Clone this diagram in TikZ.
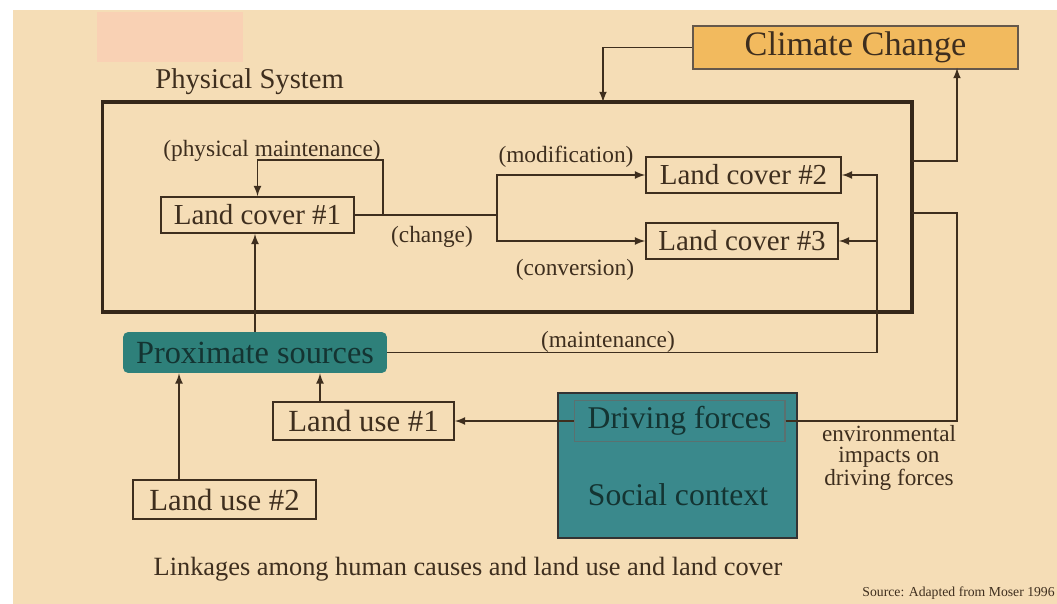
\documentclass[tikz,border=0pt]{standalone}
\usepackage{fontspec}
\setmainfont{Liberation Serif}

\definecolor{paper}{RGB}{245,221,182}
\definecolor{blush}{RGB}{249,209,180}
\definecolor{ink}{RGB}{62,46,30}
\definecolor{sun}{RGB}{242,186,94}
\definecolor{tealbox}{RGB}{46,128,122}
\definecolor{tealctx}{RGB}{58,137,140}
\definecolor{tealink}{RGB}{20,52,50}

\tikzset{
  conn/.style={ink, line width=1pt},
  arr/.style={conn, -latex},
  cover/.style={draw=ink, line width=1pt, text=ink, inner sep=0pt,
    minimum height=0.72cm, font=\fontsize{16.5}{18}\selectfont},
  landuse/.style={cover, minimum height=0.77cm, font=\fontsize{17.5}{19}\selectfont},
  note/.style={text=ink, inner sep=0pt, font=\fontsize{13.3}{14}\selectfont}
}

\begin{document}
\begin{tikzpicture}[x=0.02cm, y=-0.02cm]
    % paper
    \fill[white] (0,0) rectangle (1057,604);
    \fill[paper] (13,10) rectangle (1057,604);
    \fill[blush] (97,12) rectangle (243,62);
    \useasboundingbox (0,0) rectangle (1057,604);

    % physical system
    \node[draw=ink!85!black, line width=1.8pt, minimum width=16.2cm,
          minimum height=4.2cm] (physsys) at (507,207) {};
    \node[text=ink, anchor=west, inner sep=0pt,
          font=\fontsize{16.3}{18}\selectfont] (physlbl) at (155,82) {Physical System};

    \node[draw=ink!80, fill=sun, line width=1pt, text=ink, minimum width=6.5cm,
          minimum height=0.82cm, font=\fontsize{19.5}{22}\selectfont] (clim) at (855.5,47.5) {Climate Change};

    \node[cover, minimum width=3.86cm] (lc1) at (257.5,215) {Land cover \#1};
    \node[cover, minimum width=3.9cm] (lc2) at (743.5,175) {Land cover \#2};
    \node[cover, minimum width=3.84cm] (lc3) at (742,241) {Land cover \#3};

    \node[fill=tealbox, rounded corners=3pt, text=tealink, minimum width=5.28cm,
          minimum height=0.82cm, font=\fontsize{18.4}{20}\selectfont] (prox) at (255,352.5) {Proximate sources};
    \node[landuse, minimum width=3.62cm] (lu1) at (363.5,421) {Land use \#1};
    \node[landuse, minimum width=3.66cm] (lu2) at (224.5,499.5) {Land use \#2};

    \node[draw=black!80, fill=tealctx, line width=1.6pt, minimum width=4.78cm,
          minimum height=2.9cm] (social) at (677.5,465.5) {};
    \node[draw=tealink!70, line width=0.6pt, text=tealink, minimum width=4.22cm,
          minimum height=0.8cm, font=\fontsize{18}{20}\selectfont] (driving) at (679.5,421) {Driving forces};
    \node[text=tealink, font=\fontsize{18}{20}\selectfont] (ctx) at (678,495) {Social context};

    % climate links
    \coordinate (fbin) at (603,102);
    \coordinate (outcl) at (912,161);
    \coordinate (climin) at (957,68);
    \draw[arr] (clim.west) -| (fbin);
    \draw[arr] (outcl) -| (climin);

    % change
    \coordinate (split) at (497,215);
    \coordinate (pmtop) at (383,160);
    \draw[conn] (lc1.east) -- (split);
    \draw[arr] (split) |- (lc2.west);
    \draw[arr] (split) |- (lc3.west);
    \draw[arr] (lc1.east -| pmtop) -- (pmtop) -| (lc1.north);
    \node[note] (pmlbl) at (272,151) {(physical maintenance)};
    \node[note] (modlbl) at (566,157) {(modification)};
    \node[note] (chglbl) at (432,237) {(change)};
    \node[note] (convlbl) at (575,270) {(conversion)};

    % maintenance
    \coordinate (mtop) at (877,175);
    \draw[arr] (prox.east) -| (mtop) -- (lc2.east);
    \draw[arr] (lc3.east -| mtop) -- (lc3.east);
    \node[note] (mntlbl) at (608,342) {(maintenance)};

    % sources
    \draw[arr] (prox.north) -- (lc1.south -| prox.north);
    \draw[arr] ([xshift=-0.87cm]lu1.north) -- ([xshift=-0.87cm]lu1.north |- prox.south);
    \draw[arr] ([xshift=-0.91cm]lu2.north) -- ([xshift=-0.91cm]lu2.north |- prox.south);
    \draw[arr] (driving.west) -- (lu1.east);

    % environmental impacts
    \coordinate (envin) at (912,213);
    \coordinate (envcorner) at (957,421);
    \draw[conn] (driving.east) -- (envcorner) |- (envin);
    \node[note, align=center, font=\fontsize{13.2}{11.9}\selectfont] (envlbl) at (889,458)
         {environmental\\impacts on\\driving forces};

    % caption
    \node[text=ink, inner sep=0pt, font=\fontsize{15}{17}\selectfont] (caption) at (468,569)
         {Linkages among human causes and land use and land cover};
    \node[text=ink, anchor=east, inner sep=0pt, font=\fontsize{7.8}{9}\selectfont] (source) at (1055,593)
         {Source: Adapted from Moser 1996};
\end{tikzpicture}
\end{document}
